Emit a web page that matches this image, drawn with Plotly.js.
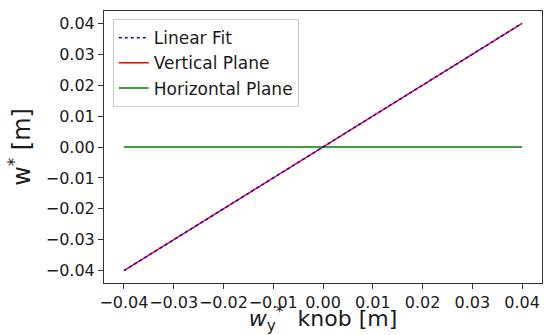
<!DOCTYPE html>
<html>
<head>
<meta charset="utf-8">
<script src="https://cdn.plot.ly/plotly-3.0.1.min.js"></script>
<style>html,body{margin:0;padding:0;background:#fff;}#chart{width:544px;height:335px;}</style>
</head>
<body>
<div id="chart"></div>
<script>
const knob = [-0.04, -0.03, -0.02, -0.01, 0.0, 0.01, 0.02, 0.03, 0.04];
const linearFit = [-0.04, -0.03, -0.02, -0.01, 0.0, 0.01, 0.02, 0.03, 0.04];
const verticalPlane = [-0.04, -0.03, -0.02, -0.01, 0.0, 0.01, 0.02, 0.03, 0.04];
const horizontalPlane = [0, 0, 0, 0, 0, 0, 0, 0, 0];
const tickVals = [-0.04, -0.03, -0.02, -0.01, 0.0, 0.01, 0.02, 0.03, 0.04];
const tickText = ['−0.04', '−0.03', '−0.02', '−0.01', '0.00', '0.01', '0.02', '0.03', '0.04'];

const font = 'DejaVu Sans, sans-serif';
const traces = [
  {x: knob, y: verticalPlane, mode: 'lines', name: 'Vertical Plane', legendrank: 2,
   line: {color: '#ff0000', width: 1.5}},
  {x: knob, y: horizontalPlane, mode: 'lines', name: 'Horizontal Plane', legendrank: 3,
   line: {color: '#008000', width: 1.5}},
  {x: knob, y: linearFit, mode: 'lines', name: 'Linear Fit', legendrank: 1,
   line: {color: '#0000ff', width: 1.5, dash: 'dot'}}
];
const axisCommon = {
  range: [-0.044, 0.044], tickvals: tickVals, ticktext: tickText,
  showgrid: false, zeroline: false, showline: true, mirror: true,
  linecolor: '#333', linewidth: 1, ticks: 'outside', ticklen: 5, tickcolor: '#333',
  tickangle: 0,
  tickfont: {family: font, size: 16, color: '#1a1a1a'}
};
const layout = {
  width: 544, height: 335,
  margin: {l: 104, r: 2, t: 11, b: 52},
  paper_bgcolor: '#fff', plot_bgcolor: '#fff',
  font: {family: font, color: '#1a1a1a'},
  showlegend: true,
  legend: {x: 0.02, y: 0.97, xanchor: 'left', yanchor: 'top',
    bgcolor: 'rgba(255,255,255,0.9)', bordercolor: '#cccccc', borderwidth: 1,
    font: {family: font, size: 17, color: '#1a1a1a'}, tracegroupgap: 0},
  xaxis: Object.assign({}, axisCommon, {
    title: {text: '<i>w</i><sub>y</sub><sup>*</sup>&nbsp; knob [m]', font: {family: font, size: 22, color: '#1a1a1a'}, standoff: 5}
  }),
  yaxis: Object.assign({}, axisCommon, {
    title: {text: 'w<sup>*</sup> [m]', font: {family: font, size: 24, color: '#1a1a1a'}, standoff: 8}
  })
};
Plotly.newPlot('chart', traces, layout, {staticPlot: true, displayModeBar: false});
</script>
</body>
</html>
